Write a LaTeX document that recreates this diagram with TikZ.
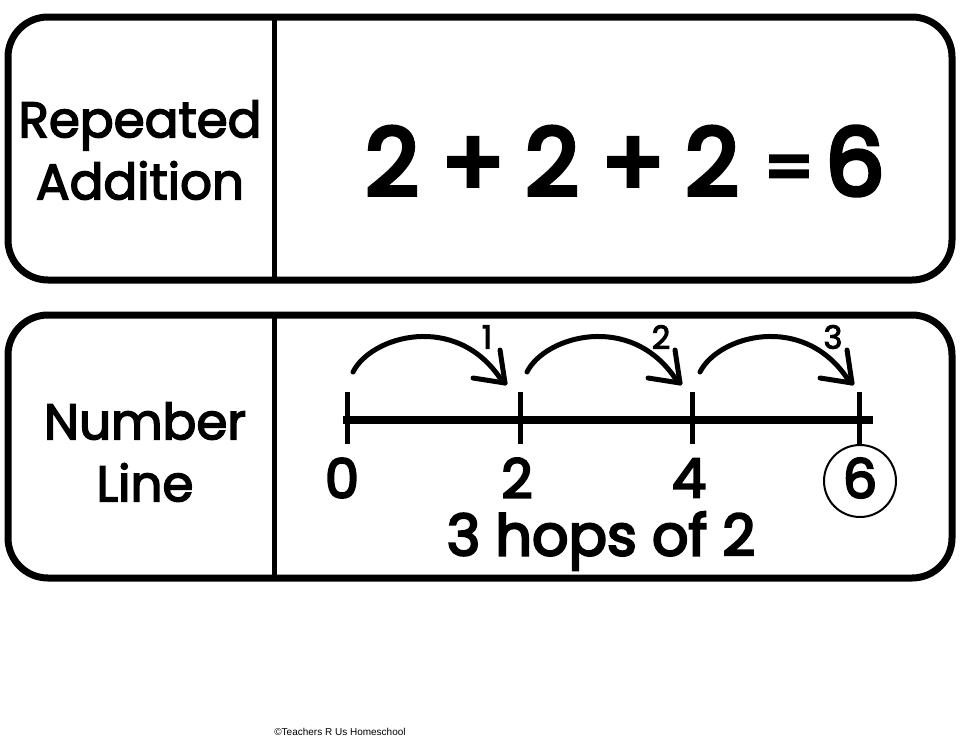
\documentclass[tikz,border=0pt]{standalone}
\usepackage{fontspec}
\setmainfont{Poppins}
\newfontfamily\medfont{Poppins}[FakeBold=3]
\newfontfamily\semifont{Poppins}[FakeBold=4]
\newfontfamily\heavyfont{Poppins}[FakeBold=5]
\newfontfamily\arialfont{Liberation Sans}
\begin{document}
\begin{tikzpicture}[x=1pt,y=-1pt,
  frame/.style={line width=7pt, rounded corners=40pt},
  divider/.style={line width=5pt},
  label/.style={font=\medfont\fontsize{50}{62}\selectfont, align=center, inner sep=0},
  bignum/.style={font=\heavyfont\fontsize{93}{110}\selectfont, inner sep=0},
  nl/.style={line width=8pt},
  tick/.style={line width=5pt},
  digit/.style={font=\semifont\fontsize{54}{60}\selectfont, inner sep=0},
  hop/.style={line width=5pt, line cap=round},
  hopnum/.style={font=\medfont\fontsize{32}{36}\selectfont, inner sep=0}]
\useasboundingbox (0,0) rectangle (960,742);
\fill[white] (0,0) rectangle (960,742);
% top box
\draw[frame] (8,17) rectangle (952,280);
\draw[divider] (274,17) -- (274,280);
\node[label] (rep) at (140,150) {Repeated\\Addition};
\node[bignum] (e1) at (392,161) {2};
\node[bignum] (e2) at (473,167) {+};
\node[bignum] (e3) at (552,161) {2};
\node[bignum] (e4) at (633,167) {+};
\node[bignum] (e5) at (712,161) {2};
\node[bignum, font=\heavyfont\fontsize{70}{80}\selectfont] (e6) at (789,174) {=};
\node[bignum] (e7) at (855,161) {6};
% bottom box
\draw[frame] (8,315) rectangle (952,578);
\draw[divider] (274,315) -- (274,578);
\node[label] (num) at (145,452) {Number\\Line};
% number line
\coordinate (L) at (343,420);
\coordinate (R) at (873,420);
\draw[nl] (L) -- (R);
\foreach \x in {347,520,692,859}{
  \draw[tick] (\x,392) -- (\x,444);
}
\node[digit] (d0) at (342,478) {0};
\node[digit] (d2) at (517,478) {2};
\node[digit] (d4) at (689,478) {4};
\node[digit] (d6) at (860,478) {6};
\draw[line width=2pt] (860,481) circle (36);
\node[font=\semifont\fontsize{57}{64}\selectfont, inner sep=0] (hops) at (601,541) {3 hops of 2};
% hops
\foreach \s/\e/\lx/\ly/\l in {353/505/487/337/1, 527/680/661/337/2, 700/852/833/337/3}{
  \draw[hop] (\s,372) .. controls ({\s+18},336) and ({\e-50},312) .. ({\e-5},378);
  \draw[hop] ({\e-5},350) -- (\e,383);
  \draw[hop] ({\e-32},378) -- (\e,383);
  \node[hopnum] at (\lx,\ly) {\l};
}
\node[font=\arialfont\fontsize{10}{11}\selectfont, inner sep=0] (copy) at (340,732) {©Teachers R Us Homeschool};
\end{tikzpicture}
\end{document}
